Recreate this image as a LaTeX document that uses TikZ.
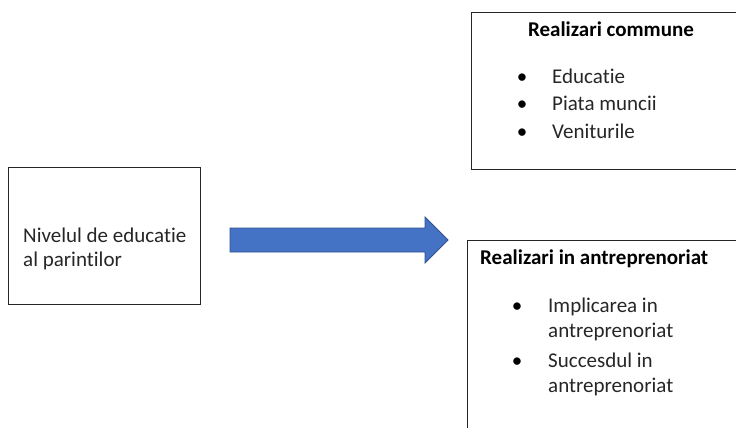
\documentclass[tikz,border=0pt]{standalone}
\usepackage{fontspec}
\setmainfont{Carlito}[Ligatures={NoCommon,NoRare,NoContextual}]
\begin{document}
\begin{tikzpicture}[x=1pt,y=-1pt,
  box/.style={draw=black!85, line width=0.9pt, inner sep=0pt, anchor=north west},
  txt/.style={font=\fontsize{21}{25}\selectfont, text=black!85, inner sep=0pt, anchor=base west},
  ttl/.style={font=\fontsize{21}{25}\selectfont\bfseries, text=black, inner sep=0pt},
  bul/.style={font=\fontsize{21}{25}\selectfont, text=black, inner sep=0pt, anchor=base},
  bigarrow/.style={fill={rgb,255:red,68;green,114;blue,196}, draw={rgb,255:red,47;green,82;blue,143}, line width=0.8pt}]
\useasboundingbox (0,0) rectangle (736,428);
\clip (0,0) rectangle (736,428);
% left box
\node[box, minimum width=192pt, minimum height=137pt] (src) at (8,167) {};
\node[txt] (s1) at (23,242) {Nivelul de educatie};
\node[txt] (s2) at (23,266) {al parintilor};
% arrow
\coordinate (a0) at (230,228);
\draw[bigarrow] (a0) -- (425,228) -- (425,217) -- (448,240) -- (425,263) -- (425,252) -- (230,252) -- cycle;
% top right box
\node[box, minimum width=290pt, minimum height=157pt] (top) at (471,12) {};
\node[ttl, anchor=base] (t0) at (611,37) {Realizari commune};
\node[bul] (b1) at (522,83) {•};
\node[txt] (t1) at (552,83) {Educatie};
\node[bul] (b2) at (522,110) {•};
\node[txt] (t2) at (552,110) {Piata muncii};
\node[bul] (b3) at (522,138) {•};
\node[txt] (t3) at (552,138) {Veniturile};
% bottom right box
\node[box, minimum width=300pt, minimum height=210pt] (bot) at (467,240) {};
\node[ttl, anchor=base west] (u0) at (480,264) {Realizari in antreprenoriat};
\node[bul] (c1) at (517,312) {•};
\node[txt] (u1) at (548,312) {Implicarea in};
\node[txt] (u2) at (548,337) {antreprenoriat};
\node[bul] (c2) at (517,367) {•};
\node[txt] (u3) at (548,367) {Succesdul in};
\node[txt] (u4) at (548,392) {antreprenoriat};
\end{tikzpicture}
\end{document}
